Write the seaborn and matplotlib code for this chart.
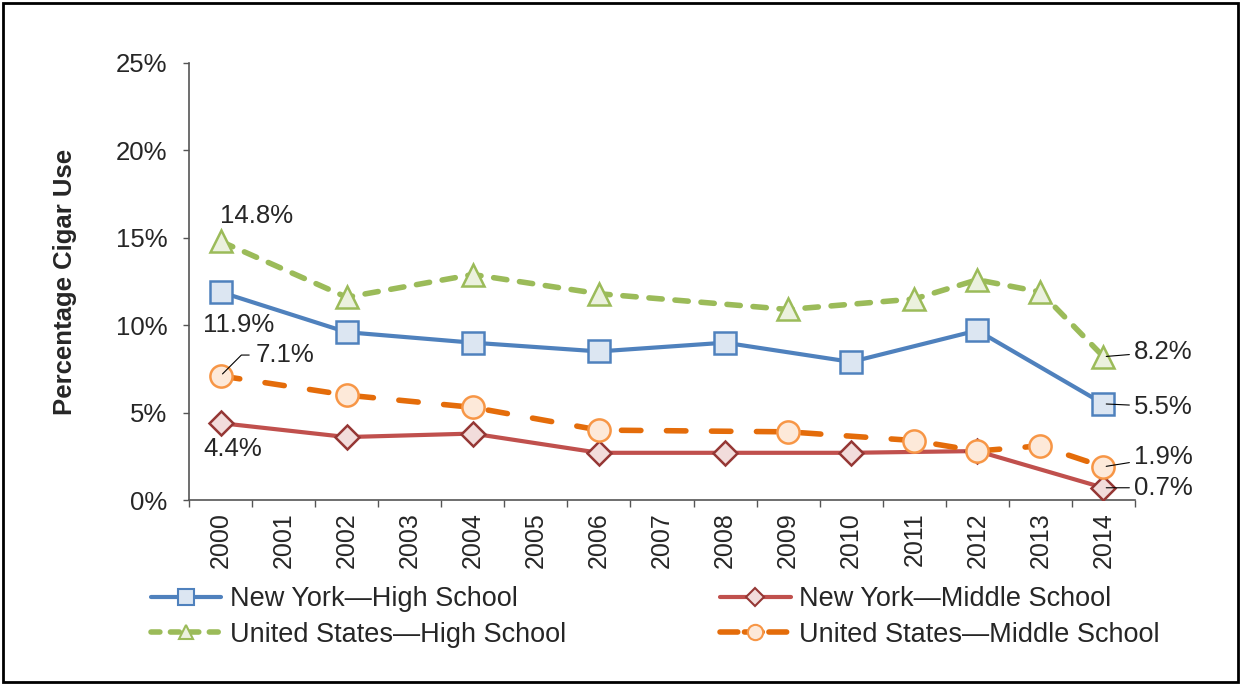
import numpy as np
import pandas as pd
import matplotlib
matplotlib.use("Agg")
import matplotlib.pyplot as plt
from matplotlib.patches import Rectangle
from matplotlib.lines import Line2D
import seaborn as sns

# ---- data ----
years = list(range(2000, 2015))
ny_hs = [11.9, None, 9.6, None, 9.0, None, 8.5, None, 9.0, None, 7.9, None, 9.7, None, 5.5]
ny_ms = [4.4, None, 3.6, None, 3.8, None, 2.7, None, 2.7, None, 2.7, None, 2.8, None, 0.7]
us_hs = [14.8, None, 11.6, None, 12.9, None, 11.8, None, None, 10.9, None, 11.5, 12.6, 11.9, 8.2]
us_ms = [7.1, None, 6.0, None, 5.3, None, 4.0, None, None, 3.9, None, 3.4, 2.8, 3.1, 1.9]
series_names = ["New York\u2014High School", "New York\u2014Middle School",
                "United States\u2014High School", "United States\u2014Middle School"]
y_ticks = [0, 5, 10, 15, 20, 25]

sns.set_theme(style="white")
plt.rcParams['font.family'] = ['Liberation Sans', 'DejaVu Sans']

FS = 18.5

fig = plt.figure(figsize=(12.41, 6.85), dpi=100)
ax = fig.add_axes([189/1241, 185/685, 946/1241, 437/685])

styles = {
    series_names[0]: dict(values=ny_hs, color="#4F81BD", marker="s", ms=15.5, mfc="#DCE6F2", mec="#4F81BD",
                          lw=3.0, dash=None, lms=11),
    series_names[1]: dict(values=ny_ms, color="#C0504D", marker="D", ms=12, mfc="#F2DCDB", mec="#953735",
                          lw=3.0, dash=None, lms=9),
    series_names[2]: dict(values=us_hs, color="#9BBB59", marker="^", ms=15.5, mfc="#EBF1DE", mec="#9BBB59",
                          lw=4.0, dash=(2.4, 2.3), lms=10),
    series_names[3]: dict(values=us_ms, color="#E46C0A", marker="o", ms=16, mfc="#FDE9D9", mec="#F79646",
                          lw=4.0, dash=(3.5, 4.6), lms=11),
}

handles = {}
for name, st in styles.items():
    df = pd.DataFrame({"year": years, "value": st["values"]}).dropna()
    sns.lineplot(data=df, x="year", y="value", ax=ax, color=st["color"], linewidth=st["lw"],
                 marker=st["marker"], markersize=st["ms"], markerfacecolor=st["mfc"],
                 markeredgecolor=st["mec"], markeredgewidth=1.8, zorder=3)
    line = ax.lines[-1]
    if st["dash"] is not None:
        line.set_dashes(st["dash"])
        line.set_dash_capstyle("round")
    h = Line2D([0], [0], color=st["color"], linewidth=st["lw"], marker=st["marker"],
               markersize=st["lms"], markerfacecolor=st["mfc"], markeredgecolor=st["mec"],
               markeredgewidth=1.5)
    if st["dash"] is not None:
        h.set_dashes((1.6, 1.9) if name == series_names[2] else (3.2, 1.2))
        h.set_dash_capstyle("round")
    handles[name] = h

ax.set_xlim(1999.5, 2014.5)
ax.set_ylim(0, 25)
ax.set_yticks(y_ticks)
ax.set_yticklabels([f"{v}%" for v in y_ticks], fontsize=FS)
ax.set_xticks(years)
ax.set_xticklabels([str(y) for y in years], rotation=90, fontsize=18)
ax.set_xticks(np.arange(1999.5, 2015, 1), minor=True)
ax.tick_params(axis="x", which="major", length=0, pad=9)
ax.tick_params(axis="x", which="minor", length=5, width=1, color="#555555", direction="out", bottom=True)
ax.tick_params(axis="y", length=4.5, width=1, color="#555555", direction="out", left=True, pad=11)
ax.set_xlabel("")
ax.set_ylabel("Percentage Cigar Use", fontsize=18.5, fontweight="bold", labelpad=28)
for s in ["top", "right"]:
    ax.spines[s].set_visible(False)
for s in ["left", "bottom"]:
    ax.spines[s].set_color("#555555")
    ax.spines[s].set_linewidth(1.2)
ax.grid(False)

# ---- data labels ----
ax.annotate("14.8%", (2000, 14.8), xytext=(26, 18), textcoords="offset points",
            ha="center", va="center", fontsize=FS)
ax.annotate("11.9%", (2000, 11.9), xytext=(13, -24), textcoords="offset points",
            ha="center", va="center", fontsize=FS)
ax.annotate("4.4%", (2000, 4.4), xytext=(9, -19), textcoords="offset points",
            ha="center", va="center", fontsize=FS)
ax.annotate("7.1%", (2000, 7.1), xytext=(25, 15), textcoords="offset points",
            ha="left", va="center", fontsize=FS,
            arrowprops=dict(arrowstyle="-", color="black", lw=0.8, shrinkA=2, shrinkB=2,
                            connectionstyle="angle,angleA=0,angleB=45,rad=0"))
for val, dy in [(8.2, 3.5), (5.5, -2), (1.9, 7), (0.7, 0)]:
    ax.annotate(f"{val}%", (2014, val), xytext=(22, dy), textcoords="offset points",
                ha="left", va="center", fontsize=FS,
                arrowprops=dict(arrowstyle="-", color="black", lw=0.8, shrinkA=1, shrinkB=2))

# ---- legend ----
order = [series_names[0], series_names[2], series_names[1], series_names[3]]
fig.legend([handles[n] for n in order], order, ncol=2, loc="upper left",
           bbox_to_anchor=(151/1241, 1 - 586/685), frameon=False, fontsize=19.5,
           handlelength=2.6, handletextpad=0.3, columnspacing=5.7, labelspacing=0.36,
           borderaxespad=0, borderpad=0)

# ---- outer border ----
fig.add_artist(Rectangle((3/1241, 3/685), 1235/1241, 679/685, transform=fig.transFigure,
                         fill=False, edgecolor="black", linewidth=2))

fig.savefig("out.png", dpi=100)
